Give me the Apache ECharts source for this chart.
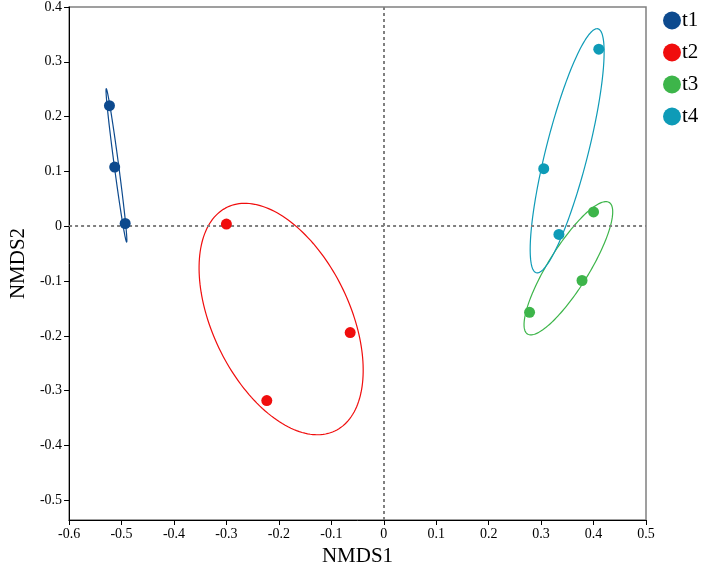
<!DOCTYPE html>
<html>
<head>
<meta charset="utf-8">
<script src="https://cdn.jsdelivr.net/npm/echarts@6/dist/echarts.min.js"></script>
<style>
  html, body { margin: 0; padding: 0; background: #fff; }
  #chart { width: 703px; height: 572px; }
</style>
</head>
<body>
<div id="chart"></div>
<script>
// 分组与样本坐标 (NMDS1, NMDS2)
const groups = ['t1', 't2', 't3', 't4'];
const t1X = [-0.523, -0.513, -0.493];
const t1Y = [0.220, 0.108, 0.005];
const t2X = [-0.300, -0.064, -0.223];
const t2Y = [0.004, -0.194, -0.318];
const t3X = [0.400, 0.378, 0.278];
const t3Y = [0.026, -0.099, -0.157];
const t4X = [0.410, 0.305, 0.334];
const t4Y = [0.323, 0.105, -0.015];
const yTicks = [-0.5, -0.4, -0.3, -0.2, -0.1, 0, 0.1, 0.2, 0.3, 0.4];

const groupX = [t1X, t2X, t3X, t4X];
const groupY = [t1Y, t2Y, t3Y, t4Y];
const colors = ['#0d4a8e', '#f00d0d', '#3db54a', '#0e9bb7'];
const ellipseScale = 1.3;
const serif = '"Liberation Serif", "DejaVu Serif", serif';

// 根据组内协方差计算置信椭圆 (数据坐标)
function ellipse(xs, ys, k, n) {
  const m = xs.length;
  const mx = xs.reduce((a, b) => a + b, 0) / m;
  const my = ys.reduce((a, b) => a + b, 0) / m;
  let sxx = 0, syy = 0, sxy = 0;
  for (let i = 0; i < m; i++) {
    sxx += (xs[i] - mx) ** 2;
    syy += (ys[i] - my) ** 2;
    sxy += (xs[i] - mx) * (ys[i] - my);
  }
  sxx /= m - 1; syy /= m - 1; sxy /= m - 1;
  const tr = (sxx + syy) / 2;
  const d = Math.sqrt(Math.max(tr * tr - (sxx * syy - sxy * sxy), 0));
  const l1 = tr + d, l2 = Math.max(tr - d, 0);
  const theta = Math.atan2(l1 - sxx, sxy);
  const a = k * Math.sqrt(l1), b = k * Math.sqrt(l2);
  const pts = [];
  for (let i = 0; i <= n; i++) {
    const t = (i / n) * Math.PI * 2;
    pts.push([
      mx + a * Math.cos(theta) * Math.cos(t) - b * Math.sin(theta) * Math.sin(t),
      my + a * Math.sin(theta) * Math.cos(t) + b * Math.cos(theta) * Math.sin(t)
    ]);
  }
  return pts;
}

const chart = echarts.init(document.getElementById('chart'));

const series = [];
groups.forEach((g, i) => {
  series.push({
    name: g,
    type: 'scatter',
    z: 5,
    symbolSize: 11,
    itemStyle: { color: colors[i], opacity: 1 },
    data: groupX[i].map((x, j) => [x, groupY[i][j]]),
    markLine: i === 0 ? {
      silent: true,
      symbol: 'none',
      label: { show: false },
      lineStyle: { color: '#808080', width: 2, type: [3, 3] },
      data: [{ xAxis: 0 }, { yAxis: 0 }]
    } : undefined
  });
});
groups.forEach((g, i) => {
  const pts = ellipse(groupX[i], groupY[i], ellipseScale, 180);
  series.push({
    name: g,
    type: 'custom',
    z: 3,
    silent: true,
    data: [[0, 0]],
    renderItem: function (params, api) {
      return {
        type: 'polygon',
        shape: { points: pts.map(p => api.coord(p)) },
        style: { fill: 'none', stroke: colors[i], lineWidth: 1.2 }
      };
    }
  });
});

const fmt = v => (Math.abs(v) < 1e-9 ? '0' : String(+v.toFixed(1)));

chart.setOption({
  animation: false,
  backgroundColor: '#fff',
  grid: {
    left: 59, right: 57, top: 6, bottom: 44,
    show: true, borderColor: '#808080', borderWidth: 1.5
  },
  legend: {
    data: groups,
    orient: 'vertical',
    left: 658,
    top: 5,
    icon: 'circle',
    itemWidth: 18,
    itemHeight: 18,
    itemGap: 11,
    textStyle: { fontFamily: serif, fontSize: 21, color: '#000', padding: [0, 0, 0, -4] }
  },
  xAxis: {
    type: 'value',
    min: -0.6,
    max: 0.5,
    interval: 0.1,
    name: 'NMDS1',
    nameLocation: 'middle',
    nameGap: 26,
    nameTextStyle: { fontFamily: serif, fontSize: 21, color: '#000' },
    axisLine: { onZero: false, lineStyle: { color: '#000', width: 1 } },
    axisTick: { show: true, length: 5, lineStyle: { color: '#000' } },
    axisLabel: { fontFamily: serif, fontSize: 14, color: '#000', margin: 7, formatter: fmt },
    splitLine: { show: false }
  },
  yAxis: {
    type: 'value',
    min: -0.536,
    max: 0.4,
    name: 'NMDS2',
    nameLocation: 'middle',
    nameGap: 36,
    nameTextStyle: { fontFamily: serif, fontSize: 21, color: '#000' },
    axisLine: { onZero: false, lineStyle: { color: '#000', width: 1 } },
    axisTick: { show: true, length: 5, lineStyle: { color: '#000' }, customValues: yTicks },
    axisLabel: { fontFamily: serif, fontSize: 14, color: '#000', margin: 7, formatter: fmt, customValues: yTicks },
    splitLine: { show: false }
  },
  series: series
});

window.addEventListener('resize', function () {
  chart.resize();
});
</script>
</body>
</html>
